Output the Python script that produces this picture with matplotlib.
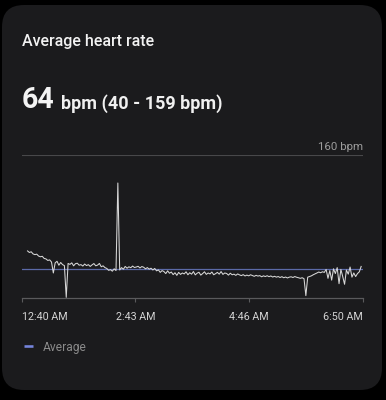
import matplotlib
matplotlib.use("Agg")
import matplotlib.pyplot as plt
from matplotlib.patches import FancyBboxPatch

plt.rcParams["font.family"] = ["Roboto", "DejaVu Sans"]

# minutes after 12:40 AM
minutes = [
    6, 8, 10, 12, 14, 16, 18, 20, 22, 24,
    26, 28, 30, 32, 34, 36, 38, 40, 42, 44,
    46, 48, 50, 52, 54, 56, 58, 60, 62, 64,
    66, 68, 70, 72, 74, 76, 78, 80, 82, 84,
    86, 88, 90, 92, 94, 96, 98, 100, 102, 104,
    106, 108, 110, 112, 114, 116, 118, 120, 122, 124,
    126, 128, 130, 132, 134, 136, 138, 140, 142, 144,
    146, 148, 150, 152, 154, 156, 158, 160, 162, 164,
    166, 168, 170, 172, 174, 176, 178, 180, 182, 184,
    186, 188, 190, 192, 194, 196, 198, 200, 202, 204,
    206, 208, 210, 212, 214, 216, 218, 220, 222, 224,
    226, 228, 230, 232, 234, 236, 238, 240, 242, 244,
    246, 248, 250, 252, 254, 256, 258, 260, 262, 264,
    266, 268, 270, 272, 274, 276, 278, 280, 282, 284,
    286, 288, 290, 292, 294, 296, 298, 300, 302, 304,
    306, 308, 310, 312, 314, 316, 318, 320, 322, 324,
    326, 328, 330, 332, 334, 336, 338, 340, 342, 344,
    346, 348, 350, 352, 354, 356, 358, 360, 362, 364,
    366, 368,
]
bpm = [
    79.5, 78.2, 78.8, 77.0, 76.4, 76.8, 75.2, 74.6, 75.0, 73.2,
    72.8, 71.5, 72.0, 70.2, 61.0, 69.5, 70.8, 67.5, 69.8, 68.0,
    67.2, 40.5, 69.0, 68.2, 69.5, 67.0, 68.8, 69.2, 67.5, 68.0,
    66.8, 68.5, 67.2, 68.0, 66.5, 67.8, 68.9, 67.0, 67.6, 69.0,
    66.2, 67.0, 65.5, 64.8, 63.2, 63.8, 62.5, 64.5, 63.0, 136.5,
    63.5, 65.5, 64.2, 66.5, 65.0, 66.2, 65.4, 66.8, 65.6, 66.0,
    66.6, 65.2, 66.4, 65.8, 64.5, 65.5, 64.2, 65.0, 63.5, 64.8,
    62.8, 63.6, 61.5, 63.0, 62.2, 60.5, 62.8, 60.8, 61.8, 59.6,
    61.2, 59.0, 61.5, 59.8, 61.0, 60.2, 62.0, 59.5, 61.2, 60.0,
    62.2, 59.4, 60.8, 61.6, 59.2, 60.5, 62.0, 59.8, 61.0, 60.2,
    61.8, 59.5, 60.4, 61.5, 60.0, 62.2, 59.8, 61.0, 60.6, 59.2,
    60.8, 59.5, 60.0, 59.0, 60.2, 59.4, 58.8, 59.6, 58.5, 59.2,
    58.6, 59.5, 58.9, 58.2, 59.0, 58.4, 58.8, 57.8, 58.6, 58.0,
    58.7, 57.9, 58.5, 57.6, 58.2, 57.5, 58.0, 57.2, 57.9, 57.0,
    57.6, 56.8, 57.5, 57.8, 57.2, 58.0, 57.4, 57.0, 56.5, 57.0,
    56.2, 42.0, 57.5, 58.0, 58.6, 59.5, 60.2, 61.0, 61.8, 61.2,
    62.0, 61.5, 64.0, 56.5, 63.0, 55.0, 64.5, 60.5, 65.5, 52.0,
    64.0, 58.0, 51.5, 63.5, 60.0, 66.0, 57.5, 61.0, 58.0, 60.5,
    62.0, 66.5,
]
average = 64
y_top = 160
y_min = 40
tick_minutes = [0, 123, 246, 370]
tick_labels = ["12:40 AM", "2:43 AM", "4:46 AM", "6:50 AM"]

W, H = 386, 400
fig = plt.figure(figsize=(W / 100, H / 100), dpi=100)
fig.patch.set_facecolor("black")

# background layer in pixel coordinates
bg = fig.add_axes([0, 0, 1, 1])
bg.set_xlim(0, W)
bg.set_ylim(H, 0)
bg.axis("off")
bg.add_patch(FancyBboxPatch((2, 5), 380, 385, boxstyle="round,pad=0,rounding_size=22",
                            facecolor="#1b1b1d", edgecolor="none"))

pt = 0.72  # px -> pt
bg.text(22, 46, "Average heart rate", color="#f2f2f2", fontsize=16 * pt,
        fontweight="medium", va="baseline")
bg.text(22, 108.5, "64", color="#f4f4f4", fontsize=28.5 * pt, fontweight="bold", va="baseline")
bg.text(61, 108.5, "bpm (40 - 159 bpm)", color="#f0f0f0", fontsize=18 * pt,
        fontweight="bold", va="baseline")
bg.text(363, 150, f"{y_top} bpm", color="#9c9c9c", fontsize=11.5 * pt, ha="right", va="baseline")

# legend
bg.plot([23.5, 33], [346.2, 346.2], color="#7585dc", lw=2.6 * pt, solid_capstyle="butt")
bg.text(43, 350.5, "Average", color="#8a8a8a", fontsize=12 * pt, va="baseline")

# chart
left, right, top, bottom = 22, 363, 155, 298
ax = fig.add_axes([left / W, (H - bottom) / H, (right - left) / W, (bottom - top) / H])
ax.set_facecolor("none")
ax.set_xlim(tick_minutes[0], tick_minutes[-1])
ax.set_ylim(y_min, y_top)

ax.axhline(y_top, color="#48484a", lw=0.8)
ax.axhline(average, color="#5b6aa8", lw=0.9)
ax.plot(minutes, bpm, color="#d8d8d8", lw=0.75, solid_joinstyle="round", clip_on=False)

for s in ["top", "right", "left"]:
    ax.spines[s].set_visible(False)
ax.spines["bottom"].set_color("#5a5a5c")
ax.spines["bottom"].set_linewidth(0.9)
ax.set_yticks([])
ax.set_xticks(tick_minutes)
ax.set_xticklabels(tick_labels)
ax.tick_params(axis="x", colors="#5a5a5c", length=3, width=0.8, pad=7,
               labelcolor="#d4d4d4", labelsize=10.8 * pt)
labels = ax.get_xticklabels()
labels[0].set_ha("left")
labels[-1].set_ha("right")

fig.savefig("out.png", dpi=100, facecolor=fig.get_facecolor())
